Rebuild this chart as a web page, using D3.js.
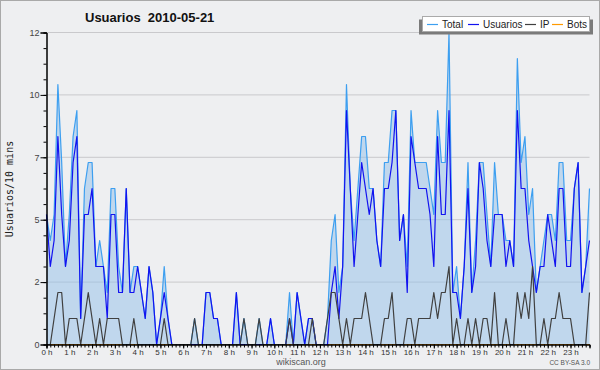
<!DOCTYPE html>
<html>
<head>
<meta charset="utf-8">
<script src="https://cdn.jsdelivr.net/npm/d3@7/dist/d3.min.js"></script>
<style>
body { margin: 0; background: #fff; }
svg { display: block; }
text { font-family: "Liberation Sans", Arial, sans-serif; }
</style>
</head>
<body>
<script>
// one value every 10 minutes, 144 per day
var total = [5,4,5,10,7,3,5,8,9,1, 6,7,7,3,4,3,2,6,6,3, 2,6,2,3,3,2,1,3,2,0, 1,3,1,0,0,0,0,0,0,1,
	0,0,2,2,1,1,0,0,0,0, 2,0,1,0,0,0,1,0,0,1, 0,0,0,0,2,0,2,1,0,1, 1,0,0,0,1,4,5,2,3,10,
	6,4,6,8,8,6,6,4,3,7, 7,9,9,4,5,3,9,7,7,7, 7,6,5,9,7,7,12,2,3,1, 3,7,2,4,7,7,5,3,7,5,
	5,4,4,3,11,7,8,5,6,2, 3,4,5,5,4,7,7,4,4,6, 7,2,3,6];
var usuarios = [5,3,4,8,5,3,4,7,8,1, 5,5,6,3,3,3,1,5,5,2, 2,6,2,2,3,2,1,3,2,0, 1,2,1,0,0,0,0,0,0,0,
	0,0,2,2,1,1,0,0,0,0, 2,0,0,0,0,0,0,0,0,1, 0,0,0,0,1,0,2,1,0,1, 1,0,0,0,0,2,3,1,3,9,
	6,3,5,7,6,5,6,4,3,6, 6,7,9,4,5,2,8,7,6,6, 6,5,3,8,5,5,9,2,2,1, 3,6,2,3,7,6,4,3,5,5,
	5,3,4,3,9,6,6,4,3,2, 3,3,5,4,3,6,6,3,3,6, 7,2,3,4];
var ip = [0,0,1,2,2,0,1,1,1,0, 1,2,1,0,1,0,1,1,1,1, 0,0,0,1,0,0,0,0,0,0, 0,1,0,0,0,0,0,0,0,1,
	0,0,0,0,0,0,0,0,0,0, 0,0,1,0,0,0,1,0,0,0, 0,0,0,0,1,0,0,0,0,0, 1,0,0,0,1,2,2,1,0,1,
	0,1,1,1,2,1,0,0,0,1, 1,2,0,0,0,1,1,0,1,1, 1,1,2,1,2,2,3,0,1,0, 0,1,0,1,0,1,1,0,2,0,
	0,1,0,0,2,1,2,1,3,0, 0,1,0,1,1,2,1,1,1,0, 0,0,0,2];
var bots = [0,0,0,0,0,0,0,0,0,0, 0,0,0,0,0,0,0,0,0,0, 0,0,0,0,0,0,0,0,0,0, 0,0,0,0,0,0,0,0,0,0,
	0,0,0,0,0,0,0,0,0,0, 0,0,0,0,0,0,0,0,0,0, 0,0,0,0,0,0,0,0,0,0, 0,0,0,0,0,0,0,0,0,0,
	0,0,0,0,0,0,0,0,0,0, 0,0,0,0,0,0,0,0,0,0, 0,0,0,0,0,0,0,0,0,0, 0,0,0,0,0,0,0,0,0,0,
	0,0,0,0,0,0,0,0,0,0, 0,0,0,0,0,0,0,0,0,0, 0,0,0,0];
var hours = ["0 h","1 h","2 h","3 h","4 h","5 h","6 h","7 h","8 h","9 h","10 h","11 h",
	"12 h","13 h","14 h","15 h","16 h","17 h","18 h","19 h","20 h","21 h","22 h","23 h"];
var yTicks = [0, 2.4, 4.8, 7.2, 9.6, 12];
var yLabels = ["0", "2", "5", "7", "10", "12"];
var seriesNames = ["Total", "Usuarios", "IP", "Bots"];
var seriesColors = ["#3d9ff0", "#1212f0", "#404040", "#ff9a00"];

var width = 600;
var height = 370;

var svg = d3.select("body").append("svg")
	.attr("width", width)
	.attr("height", height);

svg.append("rect")
	.attr("x", 0.5).attr("y", 0.5)
	.attr("width", width - 1).attr("height", height - 1)
	.attr("fill", "#eeeff1")
	.attr("stroke", "#a9a9a9");

var x = d3.scaleLinear().domain([0, 143]).range([46.5, 589.5]);
var y = d3.scaleLinear().domain([0, 12]).range([344.5, 32.5]);

// horizontal grid
svg.append("g").selectAll("line")
	.data(yTicks.slice(1))
	.enter().append("line")
	.attr("x1", x(0)).attr("x2", x(143))
	.attr("y1", d => y(d)).attr("y2", d => y(d))
	.attr("stroke", "#c9c9cc");

var area = d3.area()
	.x((d, i) => x(i))
	.y0(y(0))
	.y1(d => y(d));

svg.append("path")
	.datum(total)
	.attr("d", area)
	.attr("fill", "#92bfe9")
	.attr("fill-opacity", 0.5);

var line = d3.line()
	.x((d, i) => x(i))
	.y(d => y(d));

var allSeries = [total, usuarios, ip, bots];
[3, 0, 1, 2].forEach(function(k) {
	svg.append("path")
		.datum(allSeries[k])
		.attr("d", line)
		.attr("fill", "none")
		.attr("stroke", seriesColors[k])
		.attr("stroke-width", 1.2)
		.attr("stroke-linejoin", "round");
});

// axes
var yMinor = svg.append("g")
	.attr("transform", "translate(" + x(0) + ",0)")
	.call(d3.axisLeft(y).tickValues(d3.range(0, 12.01, 0.6)).tickSize(3).tickFormat(""));
var yAxis = svg.append("g")
	.attr("transform", "translate(" + x(0) + ",0)")
	.call(d3.axisLeft(y).tickValues(yTicks).tickSize(6).tickPadding(1)
		.tickFormat((d, i) => yLabels[i]));

var xMinor = svg.append("g")
	.attr("transform", "translate(0," + y(0) + ")")
	.call(d3.axisBottom(x).tickValues(d3.range(0, 144)).tickSize(3).tickFormat(""));
var xAxis = svg.append("g")
	.attr("transform", "translate(0," + y(0) + ")")
	.call(d3.axisBottom(x).tickValues(d3.range(0, 144, 6)).tickSize(4).tickPadding(1)
		.tickFormat((d, i) => hours[i]));

svg.selectAll(".domain").attr("stroke", "#000");
svg.selectAll(".tick line").attr("stroke", "#000");
yAxis.selectAll("text").attr("font-size", 9).attr("fill", "#444")
	.style("font-family", "'Liberation Sans', Arial, sans-serif");
xAxis.selectAll("text").attr("font-size", 8).attr("fill", "#333")
	.style("font-family", "'Liberation Sans', Arial, sans-serif");

svg.append("text")
	.attr("x", 85).attr("y", 22)
	.attr("font-size", 13).attr("font-weight", "bold")
	.attr("fill", "#111")
	.style("white-space", "pre")
	.text("Usuarios  2010-05-21");

svg.append("text")
	.attr("transform", "translate(13,189) rotate(-90)")
	.attr("text-anchor", "middle")
	.style("font-family", "'DejaVu Sans Mono', monospace")
	.attr("font-size", 10)
	.attr("fill", "#222")
	.text("Usuarios/10 mins");

svg.append("text")
	.attr("x", 301).attr("y", 365)
	.attr("text-anchor", "middle")
	.attr("font-size", 9)
	.attr("fill", "#555")
	.text("wikiscan.org");

svg.append("text")
	.attr("x", 590).attr("y", 365)
	.attr("text-anchor", "end")
	.attr("font-size", 6.5)
	.attr("fill", "#555")
	.text("CC BY-SA 3.0");

// legend
var legend = svg.append("g");
legend.append("rect")
	.attr("x", 419).attr("y", 19.5)
	.attr("width", 174).attr("height", 15)
	.attr("fill", "#7a7a7a");
legend.append("rect")
	.attr("x", 422.5).attr("y", 16.5)
	.attr("width", 167).attr("height", 15)
	.attr("fill", "#fff")
	.attr("stroke", "#aaa");

var legendX = [427, 468, 525, 552];
var item = legend.selectAll("g.item")
	.data(seriesNames)
	.enter().append("g")
	.attr("class", "item")
	.attr("transform", (d, i) => "translate(" + legendX[i] + ",0)");
item.append("line")
	.attr("x1", 0).attr("x2", 11)
	.attr("y1", 24.5).attr("y2", 24.5)
	.attr("stroke", (d, i) => seriesColors[i])
	.attr("stroke-width", 1.2);
item.append("text")
	.attr("x", 15).attr("y", 28)
	.attr("font-size", 10)
	.attr("fill", "#222")
	.text(d => d);
</script>
</body>
</html>
